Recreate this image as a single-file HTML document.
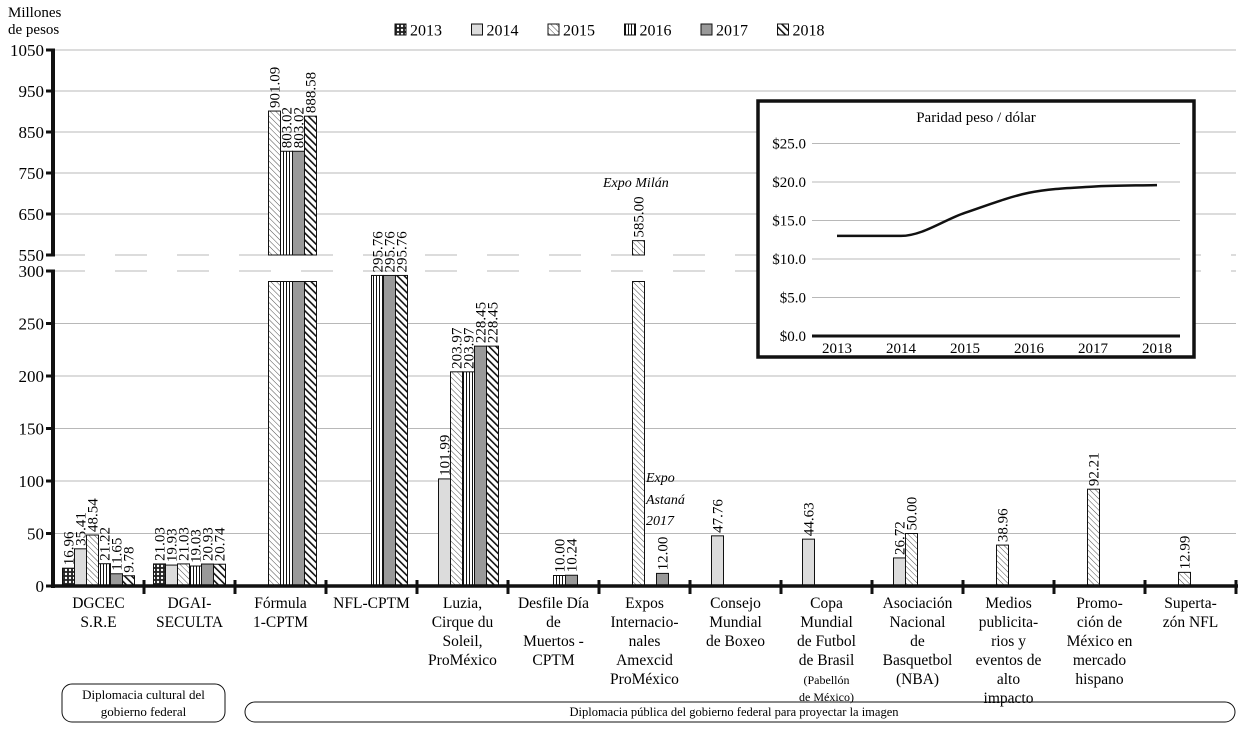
<!DOCTYPE html>
<html><head><meta charset="utf-8"><style>
body{margin:0;background:#fff}
svg, svg text{font-family:"Liberation Serif","DejaVu Serif",serif}
</style></head><body>
<svg id="c" width="1238" height="727" viewBox="0 0 1238 727" font-family="Liberation Serif, DejaVu Serif, serif">
<defs>
<pattern id="p13" width="4" height="4" patternUnits="userSpaceOnUse"><rect width="4" height="4" fill="#222"/><circle cx="2" cy="2" r="1.2" fill="#fff"/></pattern>
<pattern id="p15" width="4" height="4" patternUnits="userSpaceOnUse" patternTransform="rotate(-45)"><rect width="4" height="4" fill="#fff"/><line x1="0" y1="0" x2="0" y2="4" stroke="#222" stroke-width="0.8"/></pattern>
<pattern id="p16" width="3" height="4" patternUnits="userSpaceOnUse"><rect width="3" height="4" fill="#fff"/><line x1="1.5" y1="0" x2="1.5" y2="4" stroke="#111" stroke-width="1"/></pattern>
<pattern id="p18" width="5" height="5" patternUnits="userSpaceOnUse" patternTransform="rotate(-45)"><rect width="5" height="5" fill="#fff"/><line x1="0" y1="0" x2="0" y2="5" stroke="#111" stroke-width="3.2"/></pattern>
</defs>
<g id="grid"></g>
<g id="bars"></g>
<g id="axes"></g>
<g id="labels"></g>
<g id="inset"></g>
</svg>
<script>
const categories=[["DGCEC","S.R.E"],["DGAI-","SECULTA"],["Fórmula","1-CPTM"],["NFL-CPTM"],["Luzia,","Cirque du","Soleil,","ProMéxico"],["Desfile Día","de","Muertos -","CPTM"],["Expos","Internacio-","nales","Amexcid","ProMéxico"],["Consejo","Mundial","de Boxeo"],["Copa","Mundial","de Futbol","de Brasil","(Pabellón","de México)"],["Asociación","Nacional","de","Basquetbol","(NBA)"],["Medios","publicita-","rios y","eventos de","alto","impacto"],["Promo-","ción de","México en","mercado","hispano"],["Superta-","zón NFL"]];
const years=["2013","2014","2015","2016","2017","2018"];
const y2013=[16.96,21.03,null,null,null,null,null,null,null,null,null,null,null];
const y2014=[35.41,19.93,null,null,101.99,null,null,47.76,44.63,26.72,null,null,null];
const y2015=[48.54,21.03,901.09,null,203.97,null,585.00,null,null,50.00,38.96,92.21,12.99];
const y2016=[21.22,19.03,803.02,295.76,203.97,10.00,null,null,null,null,null,null,null];
const y2017=[11.65,20.93,803.02,295.76,228.45,10.24,12.00,null,null,null,null,null,null];
const y2018=[9.78,20.74,888.58,295.76,228.45,null,null,null,null,null,null,null,null];
const lowTicks=[0,50,100,150,200,250,300];
const highTicks=[550,650,750,850,950,1050];
const fxYears=["2013","2014","2015","2016","2017","2018"];
const fxValues=[13.0,13.0,16.0,18.6,19.4,19.6];
const fxTicks=[0,5,10,15,20,25];

const NS="http://www.w3.org/2000/svg";
const FF="Liberation Serif, DejaVu Serif, serif";
function mk(tag,attrs,parent,txt){const e=document.createElementNS(NS,tag);for(const k in attrs)e.setAttribute(k,attrs[k]);if(tag==='text')e.setAttribute('font-family',FF);if(txt!=null)e.textContent=txt;parent.appendChild(e);return e;}
function yv(v){return v<=300?586-v*1.05:255-(v-550)*0.41;}
function gx(g){return 53+91*g;}
const G=document.getElementById('grid'),B=document.getElementById('bars'),A=document.getElementById('axes'),L=document.getElementById('labels'),I=document.getElementById('inset');
const fills=["url(#p13)","#dcdcdc","url(#p15)","url(#p16)","#999","url(#p18)"];
const series=[y2013,y2014,y2015,y2016,y2017,y2018];

[...lowTicks.slice(1,6),...highTicks.slice(1)].forEach(v=>{const l=mk('line',{x1:53,x2:1236,y1:yv(v),y2:yv(v),stroke:'#b8b8b8','stroke-width':1},G);
});
[550,300].forEach(v=>{const l=mk('line',{x1:53,x2:1236,y1:yv(v),y2:yv(v),stroke:'#b8b8b8','stroke-width':1,'stroke-dasharray':'32 30'},G);
});

series.forEach((s,si)=>{s.forEach((v,g)=>{if(v==null)return;
 const x=gx(g)+9.5+12*si, cx=x+6;
 if(v>300){
  const r1=mk('rect',{x:x,y:yv(290),width:12,height:586-yv(290),fill:fills[si],stroke:'#111','stroke-width':1},B);
  
  const r2=mk('rect',{x:x,y:yv(v),width:12,height:255-yv(v),fill:fills[si],stroke:'#111','stroke-width':1},B);
  
 }else{
  const r=mk('rect',{x:x,y:yv(v),width:12,height:586-yv(v),fill:fills[si],stroke:'#111','stroke-width':1},B);
  
 }
 const ty=yv(v)-3;
 const t=mk('text',{x:cx+5,y:ty,'font-size':15,transform:'rotate(-90 '+(cx+5)+' '+ty+')'},L,v.toFixed(2));
 
});});

const ax1=mk('line',{x1:53,x2:53,y1:49,y2:256,stroke:'#111','stroke-width':4},A);

const ax2=mk('line',{x1:53,x2:53,y1:270,y2:588,stroke:'#111','stroke-width':4},A);

const xa=mk('line',{x1:51,x2:1238,y1:586,y2:586,stroke:'#111','stroke-width':3.5},A);

[...lowTicks,...highTicks].forEach(v=>{
 const tk=mk('line',{x1:46,x2:55,y1:yv(v),y2:yv(v),stroke:'#111','stroke-width':3},A);
 
 const t=mk('text',{x:44,y:yv(v)+6,'font-size':17,'text-anchor':'end'},A,String(v));
 
});
for(let g=1;g<=13;g++){const tk=mk('line',{x1:gx(g),x2:gx(g),y1:580,y2:594,stroke:'#111','stroke-width':3},A);
 }
categories.forEach((lines,g)=>{lines.forEach((ln,i)=>{
 const small=(g===8&&i>=4);
 const t=mk('text',{x:gx(g)+45.5,y:608+19*i-(small&&i==5?2:0),'font-size':small?12:15.5,'text-anchor':'middle'},A,ln);
 
});});

[["Millones",8,17],["de pesos",8,34]].forEach(a=>{const t=mk('text',{x:a[1],y:a[2],'font-size':15},A,a[0]);
 });
const an1=mk('text',{x:603,y:187,'font-size':14,'font-style':'italic'},A,'Expo Milán');

[["Expo",482],["Astaná",504],["2017",525]].forEach(a=>{const t=mk('text',{x:646,y:a[1],'font-size':14,'font-style':'italic'},A,a[0]);
 });

years.forEach((y,i)=>{const x=395+76.5*i;
 const r=mk('rect',{x:x,y:24,width:11,height:11,fill:fills[i],stroke:'#111','stroke-width':1},A);
 
 const t=mk('text',{x:x+15,y:35.5,'font-size':16},A,y);
 
});

const b1=mk('rect',{x:62,y:684,width:163,height:38,rx:10,fill:'none',stroke:'#111','stroke-width':1},A);

[["Diplomacia cultural del",699],["gobierno federal",716]].forEach(a=>{const t=mk('text',{x:143.5,y:a[1],'font-size':13,'text-anchor':'middle'},A,a[0]);
 });
const b2=mk('rect',{x:245,y:702,width:990,height:20,rx:10,fill:'none',stroke:'#111','stroke-width':1},A);

const gt=mk('text',{x:734,y:716,'font-size':12.5,'text-anchor':'middle'},A,'Diplomacia pública del gobierno federal para proyectar la imagen');


const ib=mk('rect',{x:758,y:101,width:436,height:256,fill:'#fff',stroke:'#111','stroke-width':3.5},I);

const it=mk('text',{x:976,y:122,'font-size':15,'text-anchor':'middle'},I,'Paridad peso / dólar');

function fy(v){return 336-v*7.7;}
function fx(i){return 837+64*i;}
fxTicks.forEach(v=>{
 if(v>0){const l=mk('line',{x1:812,x2:1180,y1:fy(v),y2:fy(v),stroke:'#b8b8b8','stroke-width':1},I);
 }
 const t=mk('text',{x:806,y:fy(v)+5,'font-size':15,'text-anchor':'end'},I,'$'+v.toFixed(1));
 
});
const ia=mk('line',{x1:812,x2:1180,y1:fy(0),y2:fy(0),stroke:'#111','stroke-width':3},I);

fxYears.forEach((y,i)=>{const t=mk('text',{x:fx(i),y:353,'font-size':15,'text-anchor':'middle'},I,y);
 });
// monotone cubic (Fritsch-Carlson)
const n=fxValues.length, xs=fxValues.map((v,i)=>fx(i)), ys=fxValues.map(fy);
const dl=[];for(let i=0;i<n-1;i++)dl.push((ys[i+1]-ys[i])/(xs[i+1]-xs[i]));
const m=[dl[0]];for(let i=1;i<n-1;i++)m.push(dl[i-1]*dl[i]<=0?0:(dl[i-1]+dl[i])/2);m.push(dl[n-2]);
let d='M'+xs[0]+','+ys[0];
for(let i=0;i<n-1;i++){const h=xs[i+1]-xs[i];
 d+=' C'+(xs[i]+h/3)+','+(ys[i]+m[i]*h/3)+' '+(xs[i+1]-h/3)+','+(ys[i+1]-m[i+1]*h/3)+' '+xs[i+1]+','+ys[i+1];}
const il=mk('path',{d:d,fill:'none',stroke:'#111','stroke-width':2.5},I);

</script>
</body></html>
